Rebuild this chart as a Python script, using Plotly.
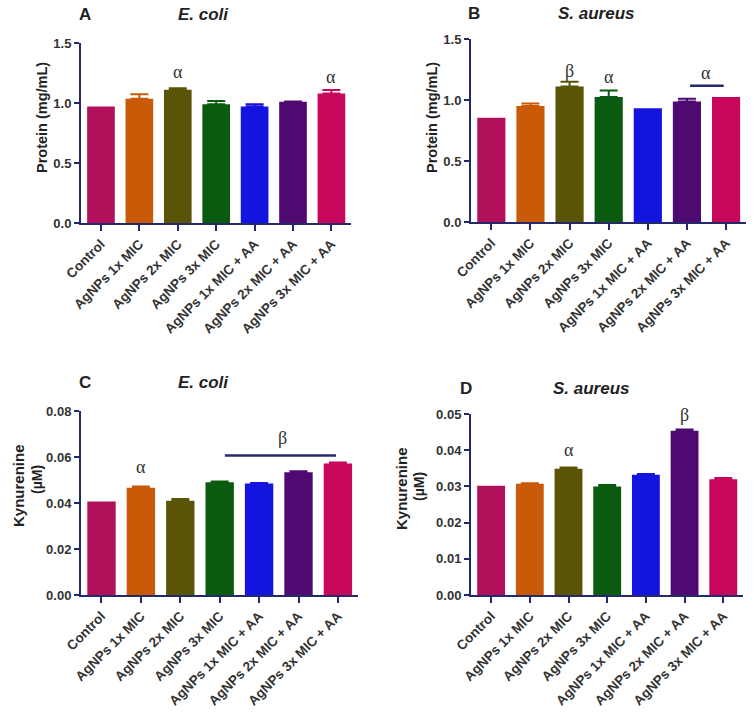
import plotly.graph_objects as go

W, H = 756, 713

categories = ["Control", "AgNPs 1x MIC", "AgNPs 2x MIC", "AgNPs 3x MIC",
              "AgNPs 1x MIC + AA", "AgNPs 2x MIC + AA", "AgNPs 3x MIC + AA"]
bar_colors = ["#b3105c", "#c95a08", "#5a5406", "#0a5a10", "#1414e0", "#4f0a72", "#c8065c"]

protein_ecoli = [0.97, 1.035, 1.11, 0.99, 0.97, 1.01, 1.08]
protein_ecoli_err = [0.0, 0.037, 0.012, 0.027, 0.02, 0.003, 0.028]
protein_saureus = [0.855, 0.95, 1.11, 1.025, 0.932, 0.988, 1.025]
protein_saureus_err = [0.0, 0.022, 0.04, 0.052, 0.0, 0.022, 0.0]
kyn_ecoli = [0.0406, 0.0466, 0.0410, 0.0490, 0.0485, 0.0534, 0.0572]
kyn_ecoli_err = [0.0, 0.0006, 0.0007, 0.0003, 0.0002, 0.0004, 0.0004]
kyn_saureus = [0.0302, 0.0307, 0.0349, 0.0300, 0.0332, 0.0454, 0.0320]
kyn_saureus_err = [0.0, 0.0002, 0.0003, 0.0004, 0.0002, 0.0003, 0.0003]

AX = "#23296b"
TXT = "#333333"
FONT = "Liberation Sans, Arial, sans-serif"


def px_x(p):
    return p / W


def px_y(p):
    return 1 - p / H


panels = [
    # (values, errors, xref, yref, x-domain px, y-domain px, range, dtick, fmt)
    (protein_ecoli, protein_ecoli_err, "x", "y", (81, 351), (43, 223), [0, 1.5], 0.5, ".1f"),
    (protein_saureus, protein_saureus_err, "x2", "y2", (471, 746), (39, 222), [0, 1.5], 0.5, ".1f"),
    (kyn_ecoli, kyn_ecoli_err, "x3", "y3", (81, 358), (411, 595), [0, 0.08], 0.02, ".2f"),
    (kyn_saureus, kyn_saureus_err, "x4", "y4", (471, 743), (414, 595), [0, 0.05], 0.01, ".2f"),
]

fig = go.Figure()
layout = dict(
    width=W, height=H, margin=dict(l=0, r=0, t=0, b=0, autoexpand=False),
    paper_bgcolor="white", plot_bgcolor="white", showlegend=False,
    barmode="overlay", bargap=0.28,
    font=dict(family=FONT, color=TXT),
)

for idx, (vals, errs, xr, yr, xd, yd, rng, dt, fmt) in enumerate(panels):
    for i, cat in enumerate(categories):
        fig.add_trace(go.Bar(
            x=[cat], y=[vals[i]], xaxis=xr, yaxis=yr,
            marker=dict(color=bar_colors[i], line=dict(width=0)),
            width=0.72,
            error_y=dict(type="data", array=[errs[i]], arrayminus=[0], symmetric=False,
                         color=bar_colors[i], thickness=2, width=9,
                         visible=errs[i] > 0),
            hoverinfo="skip",
        ))
    suffix = "" if idx == 0 else str(idx + 1)
    layout["xaxis" + suffix] = dict(
        domain=[px_x(xd[0]), px_x(xd[1])], anchor=yr, automargin=False,
        type="category", categoryorder="array", categoryarray=categories,
        range=[-0.52, 6.51], showline=True, linecolor=AX, linewidth=2,
        ticks="outside", ticklen=6, tickwidth=2, tickcolor=AX,
        tickangle=-45, tickfont=dict(family=FONT, size=13.5, color=TXT, weight="bold"),
        showgrid=False, zeroline=False,
    )
    layout["yaxis" + suffix] = dict(
        domain=[px_y(yd[1]), px_y(yd[0])], anchor=xr, automargin=False,
        range=rng, dtick=dt, tick0=0, tickformat=fmt,
        showline=True, linecolor=AX, linewidth=2,
        ticks="outside", ticklen=5, tickwidth=2, tickcolor=AX,
        tickfont=dict(family=FONT, size=13, color=TXT, weight="bold"),
        showgrid=False, zeroline=False,
    )

ann = []


def ptext(text, x, y, size, italic=False, angle=0):
    ann.append(dict(text=text, x=px_x(x), y=px_y(y), xref="paper", yref="paper",
                    showarrow=False, textangle=angle, xanchor="center", yanchor="middle",
                    font=dict(family=FONT, size=size, color="#222222", weight="bold",
                              style="italic" if italic else "normal")))


# panel letters and titles
ptext("A", 85, 15, 17)
ptext("E. coli", 203, 15, 17, italic=True)
ptext("B", 474, 13, 17)
ptext("S. aureus", 596, 13, 17, italic=True)
ptext("C", 85, 382, 17)
ptext("E. coli", 203, 382, 17, italic=True)
ptext("D", 466, 388, 17)
ptext("S. aureus", 591, 388, 17, italic=True)

# y-axis titles
ptext("Protein (mg/mL)", 42, 118, 14.5, angle=-90)
ptext("Protein (mg/mL)", 432, 118, 14.5, angle=-90)
ptext("Kynurenine", 18, 486, 15, angle=-90)
ptext("(µM)", 37, 480, 14, angle=-90)
ptext("Kynurenine", 401, 489, 15, angle=-90)
ptext("(µM)", 419, 486, 14, angle=-90)


def greek(text, xr, yr, x, y):
    ann.append(dict(text=text, x=x, y=y, xref=xr, yref=yr, showarrow=False,
                    xanchor="center", yanchor="middle",
                    font=dict(family="Liberation Serif, Times New Roman, serif", size=18, color="#333333")))


greek("α", "x", "y", 2, 1.26)
greek("α", "x", "y", 6, 1.22)
greek("β", "x2", "y2", 2, 1.24)
greek("α", "x2", "y2", 3, 1.19)
greek("α", "x2", "y2", 5.5, 1.22)
greek("α", "x3", "y3", 1, 0.0557)
greek("β", "x3", "y3", 4.6, 0.0683)
greek("α", "x4", "y4", 2, 0.0400)
greek("β", "x4", "y4", 5, 0.0497)

layout["annotations"] = ann
layout["shapes"] = [
    dict(type="line", xref="x2", yref="y2", x0=5.08, x1=5.94, y0=1.117, y1=1.117,
         line=dict(color=AX, width=2.5)),
    dict(type="line", xref="x3", yref="y3", x0=3.13, x1=5.95, y0=0.0606, y1=0.0606,
         line=dict(color=AX, width=2.5)),
]

fig.update_layout(**layout)
fig.write_html("out.html", config={"displayModeBar": False},
               post_script="document.body.style.margin='0';document.body.style.padding='0';")
